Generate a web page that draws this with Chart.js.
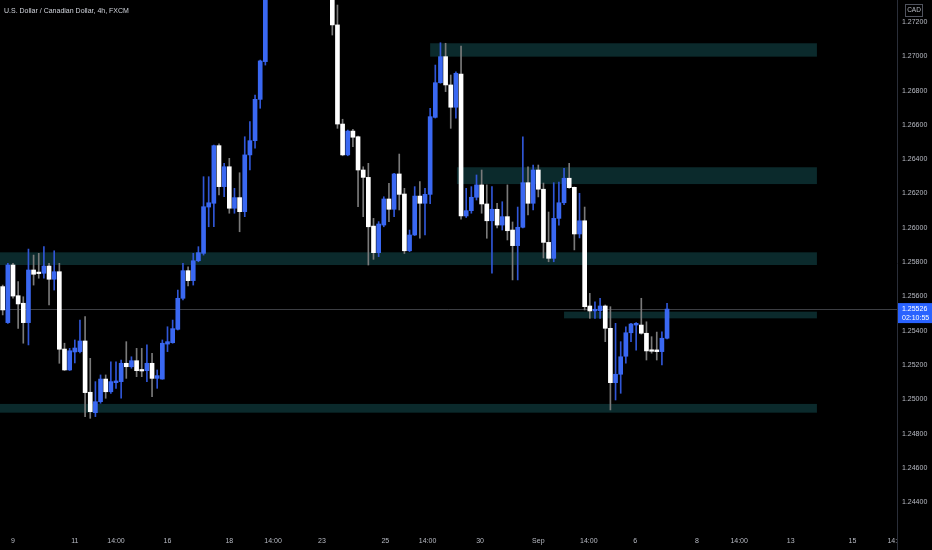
<!DOCTYPE html>
<html><head><meta charset="utf-8">
<script src="https://cdn.jsdelivr.net/npm/chart.js@4.4.1/dist/chart.umd.min.js"></script>
<style>html,body{margin:0;padding:0;background:#000;}canvas{display:block;}</style>
</head><body>
<canvas id="c" width="932" height="550"></canvas>
<script>
// ---- data (4h candles, slot index = position) ----
const opens = [1.25657,1.25447,1.25783,1.25604,1.25560,1.25447,1.25754,1.25736,1.25735,1.25777,
1.25700,1.25744,1.25293,1.25171,1.25276,1.25278,1.25340,1.25041,1.24922,1.24986,
1.25118,1.25044,1.25097,1.25103,1.25210,1.25190,1.25225,1.25171,1.25167,1.25210,
1.25122,1.25118,1.25322,1.25330,1.25408,1.25589,1.25750,1.25692,1.25808,1.25851,
1.26121,1.26143,1.26479,1.26240,1.26356,1.26114,1.26176,1.26094,1.26425,1.26508,
1.26749,1.26969,1.27560,1.27720,1.27980,1.28270,1.28450,1.28820,1.29150,1.29020,
1.28600,1.28380,1.28050,1.27780,1.27520,1.27183,1.26605,1.26425,1.26564,1.26531,
1.26337,1.26294,1.26010,1.25855,1.26016,1.26168,1.26108,1.26314,1.26197,1.25866,
1.25958,1.26185,1.26143,1.26195,1.26644,1.26846,1.26998,1.26833,1.26703,1.26897,
1.26069,1.26100,1.26178,1.26250,1.26139,1.26041,1.26108,1.26016,1.26065,1.25987,
1.25896,1.26003,1.26263,1.26143,1.26337,1.26225,1.25915,1.25822,1.26055,1.26146,
1.26289,1.26236,1.25964,1.26041,1.25544,1.25515,1.25517,1.25544,1.25414,1.25097,
1.25146,1.25251,1.25388,1.25433,1.25433,1.25385,1.25288,1.25288,1.25278,1.25356];
const highs = [1.25666,1.25793,1.25793,1.25686,1.25598,1.25876,1.25841,1.25851,1.25890,1.25793,
1.25866,1.25793,1.25327,1.25297,1.25346,1.25462,1.25482,1.25239,1.25103,1.25142,
1.25142,1.25219,1.25219,1.25229,1.25336,1.25248,1.25297,1.25297,1.25317,1.25268,
1.25171,1.25346,1.25423,1.25462,1.25637,1.25793,1.25773,1.25851,1.25890,1.26298,
1.26298,1.26483,1.26489,1.26376,1.26405,1.26230,1.26321,1.26531,1.26619,1.26774,
1.26978,1.27650,1.27800,1.28050,1.28350,1.28600,1.28950,1.29300,1.29490,1.29100,
1.28700,1.28450,1.28150,1.27900,1.27600,1.27299,1.26633,1.26570,1.26574,1.26535,
1.26356,1.26376,1.26055,1.26036,1.26181,1.26260,1.26318,1.26430,1.26230,1.25987,
1.26240,1.26269,1.26230,1.26697,1.26949,1.27079,1.27076,1.26891,1.26910,1.27060,
1.26230,1.26240,1.26308,1.26337,1.26250,1.26240,1.26143,1.26152,1.26250,1.26034,
1.26121,1.26530,1.26355,1.26366,1.26366,1.26261,1.26092,1.26263,1.26267,1.26347,
1.26376,1.26238,1.26201,1.26121,1.25618,1.25569,1.25589,1.25550,1.25540,1.25443,
1.25336,1.25423,1.25443,1.25447,1.25589,1.25452,1.25365,1.25392,1.25394,1.25560];
const lows = [1.25492,1.25443,1.25589,1.25414,1.25327,1.25317,1.25666,1.25706,1.25706,1.25550,
1.25637,1.25210,1.25168,1.25168,1.25212,1.25270,1.24899,1.24889,1.24899,1.24977,
1.25006,1.25035,1.25064,1.25006,1.25122,1.25181,1.25132,1.25132,1.25103,1.25015,
1.25064,1.25117,1.25278,1.25327,1.25404,1.25579,1.25661,1.25666,1.25802,1.25841,
1.26006,1.26006,1.26191,1.26181,1.26085,1.26085,1.25977,1.26065,1.26337,1.26464,
1.26697,1.26949,1.27450,1.27650,1.27900,1.28100,1.28400,1.28700,1.28900,1.28500,
1.28250,1.27950,1.27700,1.27450,1.27124,1.26580,1.26420,1.26420,1.26473,1.26123,
1.26065,1.25783,1.25816,1.25832,1.26006,1.26036,1.26065,1.26104,1.25850,1.25861,
1.25955,1.25939,1.25958,1.26140,1.26640,1.26843,1.26794,1.26580,1.26639,1.26050,
1.26060,1.26085,1.26162,1.26085,1.25939,1.25735,1.25999,1.25987,1.25929,1.25696,
1.25696,1.25999,1.26075,1.26104,1.26180,1.25824,1.25802,1.25802,1.26016,1.26135,
1.26230,1.25871,1.25941,1.25521,1.25472,1.25472,1.25472,1.25336,1.24938,1.24996,
1.25035,1.25210,1.25336,1.25287,1.25380,1.25229,1.25269,1.25229,1.25200,1.25352];
const closes = [1.25521,1.25783,1.25602,1.25556,1.25447,1.25754,1.25729,1.25733,1.25777,1.25700,
1.25744,1.25292,1.25171,1.25283,1.25299,1.25340,1.25039,1.24928,1.24986,1.25118,
1.25044,1.25103,1.25107,1.25210,1.25190,1.25225,1.25167,1.25165,1.25210,1.25122,
1.25138,1.25327,1.25336,1.25412,1.25589,1.25750,1.25692,1.25808,1.25855,1.26123,
1.26146,1.26479,1.26240,1.26356,1.26114,1.26176,1.26094,1.26425,1.26508,1.26749,
1.26973,1.27560,1.27720,1.27980,1.28270,1.28450,1.28820,1.29150,1.29020,1.28600,
1.28380,1.28050,1.27780,1.27520,1.27183,1.26605,1.26425,1.26564,1.26528,1.26337,
1.26294,1.26006,1.25855,1.26022,1.26168,1.26108,1.26314,1.26195,1.25866,1.25958,
1.26185,1.26143,1.26195,1.26648,1.26846,1.26998,1.26833,1.26703,1.26901,1.26069,
1.26100,1.26178,1.26250,1.26139,1.26041,1.26108,1.26016,1.26065,1.25983,1.25896,
1.26003,1.26263,1.26143,1.26337,1.26225,1.25915,1.25822,1.26055,1.26146,1.26289,
1.26234,1.25964,1.26041,1.25540,1.25515,1.25525,1.25544,1.25414,1.25097,1.25146,
1.25248,1.25388,1.25439,1.25443,1.25385,1.25282,1.25280,1.25278,1.25356,1.25526];

// time-axis labels (slot positions) and price-axis ticks
const xTickSlots  = [2, 14, 22, 32, 44, 52.5, 62, 74.3, 82.5, 92.7, 104, 113.8, 122.8, 134.8, 143, 153, 165, 173.5];
const xTickLabels = ['9','11','14:00','16','18','14:00','23','25','14:00','30','Sep','14:00','6','8','14:00','13','15','14:00'];
const yTickValues = [1.244,1.246,1.248,1.250,1.252,1.254,1.256,1.258,1.260,1.262,1.264,1.266,1.268,1.270,1.272];

// supply / demand zones
const zoneStart = [83, 88.2, -1, 109, -1];
const zoneEnd   = [158.1, 158.1, 158.1, 158.1, 158.1];
const zoneHigh  = [1.27076, 1.26353, 1.25857, 1.25511, 1.24973];
const zoneLow   = [1.26998, 1.26255, 1.25783, 1.25472, 1.24922];

const lastPrice = 1.25526;
const countdown = '02:10:55';
const titleText = 'U.S. Dollar / Canadian Dollar, 4h, FXCM';
const currency = 'CAD';

// ---- styles ----
const FONT = "'Liberation Sans', Arial, sans-serif";
const UP = '#3a68f2', DOWN = '#ffffff', UPWICK = '#3056d6', DOWNWICK = '#7a7a7a';
const TEXT = '#b8bbc4', BORDER = '#2a2e39', ZONE = '#0b2a2c';

const idx = opens.map((_, i) => i);
const isUp = idx.map(i => closes[i] >= opens[i]);

const bgPlugin = {
  id: 'bg',
  beforeDraw(chart) {
    const c = chart.ctx; c.save(); c.fillStyle = '#000'; c.fillRect(0, 0, chart.width, chart.height); c.restore();
  },
  beforeDatasetsDraw(chart) {
    const c = chart.ctx, a = chart.chartArea, xs = chart.scales.x, ys = chart.scales.y;
    c.save();
    c.beginPath(); c.rect(a.left, a.top, a.right - a.left, a.bottom - a.top); c.clip();
    c.fillStyle = ZONE;
    zoneStart.forEach((s, i) => {
      const x1 = xs.getPixelForValue(s), x2 = xs.getPixelForValue(zoneEnd[i]);
      const y1 = ys.getPixelForValue(zoneHigh[i]), y2 = ys.getPixelForValue(zoneLow[i]);
      c.fillRect(x1, y1, x2 - x1, y2 - y1);
    });
    const py = Math.round(ys.getPixelForValue(lastPrice)) + 0.5;
    c.strokeStyle = 'rgba(120,123,134,0.5)'; c.lineWidth = 1;
    c.beginPath(); c.moveTo(a.left, py); c.lineTo(a.right, py); c.stroke();
    c.restore();
  },
  afterDraw(chart) {
    const c = chart.ctx, a = chart.chartArea, ys = chart.scales.y;
    c.save();
    // clip time labels that run under the price scale
    c.fillStyle = '#000'; c.fillRect(a.right + 0.5, a.bottom + 1, chart.width - a.right, chart.height - a.bottom);
    c.strokeStyle = BORDER; c.lineWidth = 1;
    c.beginPath(); c.moveTo(Math.round(a.right) + 0.5, a.bottom); c.lineTo(Math.round(a.right) + 0.5, chart.height); c.stroke();
    // title
    c.fillStyle = '#d1d4dc'; c.font = '7px ' + FONT; c.textBaseline = 'middle'; c.textAlign = 'left';
    c.fillText(titleText, 4, 11);
    // currency box
    c.strokeStyle = '#50535e'; c.lineWidth = 1;
    c.strokeRect(905.5, 4.5, 17, 12);
    c.fillStyle = TEXT; c.font = '6.5px ' + FONT; c.textAlign = 'center';
    c.fillText(currency, 914, 10.5);
    // last price box
    const py = ys.getPixelForValue(lastPrice);
    c.fillStyle = '#2962ff';
    c.fillRect(Math.round(a.right) + 1, py - 6, chart.width - a.right, 20);
    c.fillStyle = '#ffffff'; c.font = '7px ' + FONT; c.textAlign = 'left';
    c.fillText(lastPrice.toFixed(5), 902, py);
    c.fillText(countdown, 902, py + 9);
    c.restore();
  }
};

new Chart(document.getElementById('c'), {
  type: 'bar',
  data: {
    datasets: [
      {
        label: 'wick', order: 2, grouped: false,
        data: idx.map(i => ({ x: i, y: [lows[i], highs[i]] })),
        backgroundColor: idx.map(i => isUp[i] ? UPWICK : DOWNWICK),
        barThickness: 1, borderWidth: 0
      },
      {
        label: 'body', order: 1, grouped: false,
        data: idx.map(i => ({ x: i, y: [opens[i], closes[i]] })),
        backgroundColor: idx.map(i => isUp[i] ? UP : DOWN),
        barThickness: 4, minBarLength: 1.5, borderWidth: 0
      }
    ]
  },
  options: {
    responsive: false, animation: false, devicePixelRatio: 1,
    layout: { padding: 0 },
    plugins: { legend: { display: false }, tooltip: { enabled: false }, title: { display: false } },
    scales: {
      x: {
        type: 'linear', min: -0.524, max: 173.65, offset: false,
        grid: { display: false, drawTicks: false },
        border: { display: false },
        afterBuildTicks: s => { s.ticks = xTickSlots.map(v => ({ value: v })); },
        afterFit: s => { s.height = 24; s.paddingLeft = 0; s.paddingRight = 0; },
        ticks: {
          autoSkip: false, maxRotation: 0, minRotation: 0, padding: 11,
          color: TEXT, font: { size: 7, family: FONT },
          callback: (v, i) => xTickLabels[i]
        }
      },
      y: {
        type: 'linear', position: 'right', min: 1.242612, max: 1.273283,
        grid: { display: false, drawTicks: false },
        border: { display: true, color: BORDER },
        afterBuildTicks: s => { s.ticks = yTickValues.map(v => ({ value: v })); },
        afterFit: s => { s.width = 35; s.paddingTop = 0; s.paddingBottom = 0; },
        ticks: {
          padding: 5, color: TEXT, font: { size: 7, family: FONT },
          callback: v => Number(v).toFixed(5)
        }
      }
    }
  },
  plugins: [bgPlugin]
});
</script>
</body></html>
